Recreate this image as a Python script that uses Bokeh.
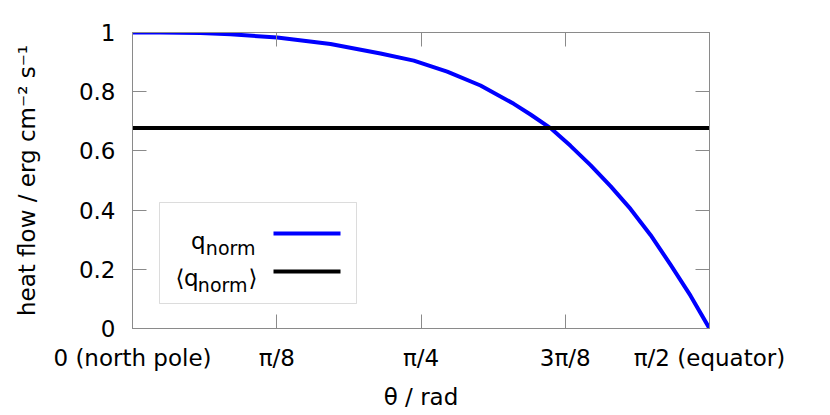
import numpy as np
from bokeh.plotting import figure
from bokeh.models import (FixedTicker, LinearAxis, Range1d, BoxAnnotation, Label, Arrow)
from bokeh.embed import file_html
from bokeh.resources import INLINE

# ---- data ----
# theta in radians (0 = north pole, pi/2 = equator)
theta = [0.0000, 0.0762, 0.1851, 0.2668, 0.3939, 0.5390, 0.6751, 0.7658,
         0.8567, 0.9474, 1.0380, 1.0835, 1.1379, 1.1924, 1.2468, 1.3013,
         1.3557, 1.4102, 1.4646, 1.5191, 1.5708]
q_norm = [1.000, 1.000, 0.998, 0.994, 0.983, 0.961, 0.929, 0.905,
          0.868, 0.821, 0.759, 0.723, 0.677, 0.617, 0.552, 0.481,
          0.404, 0.316, 0.216, 0.111, 0.000]
q_mean = 0.677
x_ticks = [0.0, np.pi / 8, np.pi / 4, 3 * np.pi / 8, np.pi / 2]
x_tick_labels = ["0 (north pole)", "π/8", "π/4", "3π/8", "π/2 (equator)"]
y_ticks = [0, 0.2, 0.4, 0.6, 0.8, 1]
y_tick_labels = ["0", "0.2", "0.4", "0.6", "0.8", "1"]

FONT = "DejaVu Sans"
FS = "23px"
GRAY = "#8a8a8a"

p = figure(width=822, height=407, frame_width=577, frame_height=296,
           min_border_left=132, min_border_right=113, min_border_top=32, min_border_bottom=79,
           x_range=Range1d(0, np.pi / 2), y_range=Range1d(0, 1),
           output_backend="svg", toolbar_location=None)
p.grid.visible = False
p.outline_line_color = GRAY
p.outline_line_width = 1

p.line(theta, q_norm, line_color="#0000ff", line_width=4, line_join="round")
p.line([x_ticks[0], x_ticks[-1]], [q_mean, q_mean], line_color="black", line_width=4)

def style_axis(ax):
    ax.axis_line_color = GRAY
    ax.major_tick_line_color = GRAY
    ax.major_tick_in = 14
    ax.major_tick_out = 0
    ax.minor_tick_line_color = None
    ax.major_label_text_font = FONT
    ax.major_label_text_font_size = FS
    ax.major_label_text_color = "black"
    ax.axis_label_text_font = FONT
    ax.axis_label_text_font_size = FS
    ax.axis_label_text_font_style = "normal"
    ax.axis_label_text_color = "black"

xa = p.xaxis[0]
style_axis(xa)
xa.ticker = FixedTicker(ticks=x_ticks)
xa.major_label_overrides = dict(zip(x_ticks, x_tick_labels))
xa.major_label_standoff = 16
xa.axis_label = "θ / rad"
xa.axis_label_standoff = 10

ya = p.yaxis[0]
style_axis(ya)
ya.ticker = FixedTicker(ticks=y_ticks)
ya.major_label_overrides = dict(zip(y_ticks, y_tick_labels))
ya.major_label_standoff = 17
ya.axis_label = "heat flow / erg cm⁻² s⁻¹"
ya.axis_label_standoff = 36

top = LinearAxis(ticker=FixedTicker(ticks=x_ticks))
style_axis(top)
top.major_label_overrides = {t: "" for t in x_ticks}
p.add_layout(top, "above")
right = LinearAxis(ticker=FixedTicker(ticks=y_ticks))
style_axis(right)
right.major_label_overrides = {t: "" for t in y_ticks}
p.add_layout(right, "right")

# ---- legend (label left, sample right), screen units relative to frame ----
p.add_layout(BoxAnnotation(left=27, right=224, bottom=25, top=126,
                           left_units="screen", right_units="screen",
                           bottom_units="screen", top_units="screen",
                           fill_color="white", fill_alpha=1.0,
                           line_color=GRAY, line_width=1))

def lab(x, y, t, size):
    p.add_layout(Label(x=x, y=y, x_units="screen", y_units="screen", text=t,
                       text_font=FONT, text_font_size=size, text_align="right",
                       text_baseline="alphabetic", text_color="black"))

lab(73, 88, "q", "23px")
lab(123, 81, "norm", "19px")
p.add_layout(Arrow(x_start=141, y_start=95, x_end=208, y_end=95,
                   start_units="screen", end_units="screen", end=None,
                   line_color="#0000ff", line_width=4))

lab(52, 51, "⟨", "23px")
lab(66, 51, "q", "23px")
lab(115, 44, "norm", "19px")
lab(125, 51, "⟩", "23px")
p.add_layout(Arrow(x_start=141, y_start=57, x_end=208, y_end=57,
                   start_units="screen", end_units="screen", end=None,
                   line_color="black", line_width=4))

open("out.html", "w").write(file_html(p, INLINE))
